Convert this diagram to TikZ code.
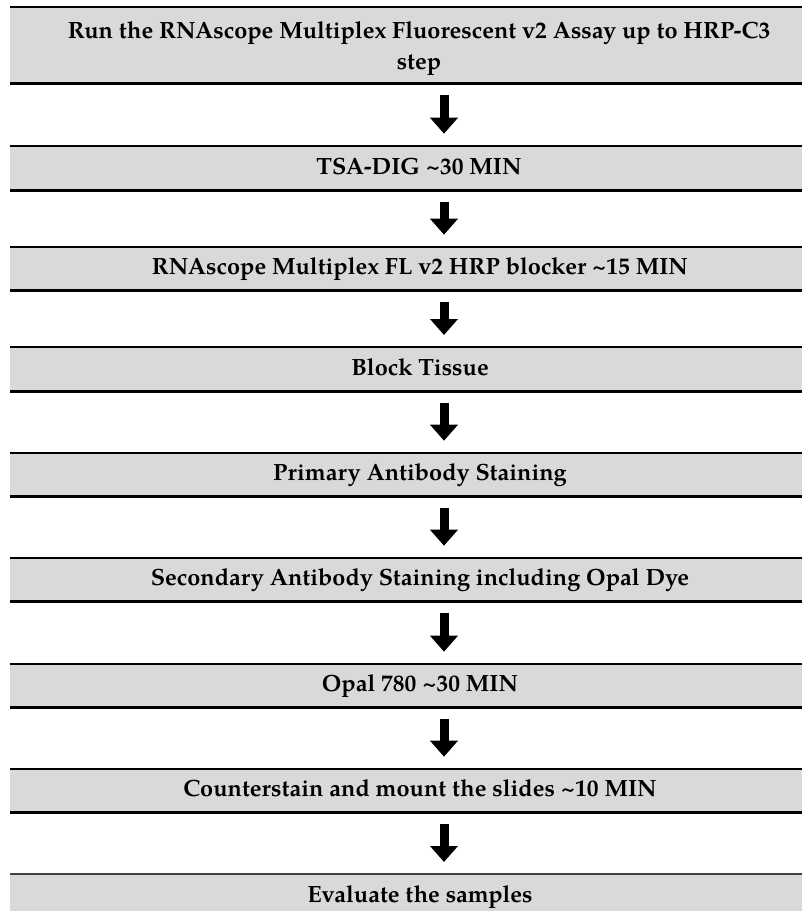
\documentclass[tikz,border=0pt]{standalone}
\usepackage{fontspec}
\setmainfont{TeX Gyre Pagella}
\usetikzlibrary{arrows.meta}
\definecolor{boxgray}{HTML}{D9D9D9}
\definecolor{rulegray}{HTML}{404040}
\begin{document}
\begin{tikzpicture}[x=1pt,y=-1pt,
  box/.style={fill=boxgray, draw=none, minimum width=792pt, inner sep=0pt, anchor=north west},
  lbl/.style={font=\fontsize{23.5}{31}\selectfont\bfseries, align=center, inner sep=0pt, anchor=base},
  toprule/.style={line width=2pt},
  botrule/.style={line width=3pt},
  flow/.style={line width=9pt, -{Triangle[width=27pt,length=16pt]}, shorten <=12pt, shorten >=12pt}]
\useasboundingbox (0,0) rectangle (802,911);
\coordinate (ax) at (444,0);
% boxes
\node[box, minimum height=76.3pt] (b1) at (10,6.7) {};
\node[box, minimum height=44.3pt] (b2) at (10,145.7) {};
\node[box, minimum height=43.3pt] (b3) at (10,246.7) {};
\node[box, minimum height=44pt] (b4) at (10,347) {};
\node[box, minimum height=43.3pt] (b5) at (10,452.7) {};
\node[box, minimum height=43.3pt] (b6) at (10,557.7) {};
\node[box, minimum height=43.3pt] (b7) at (10,663.7) {};
\node[box, minimum height=43.3pt] (b8) at (10,768.7) {};
\node[box, minimum height=44pt] (b9) at (10,874) {};
% rules
\foreach \b in {b1,b2,b3,b4,b5,b6,b7,b8}{
  \draw[toprule] (\b.north west) -- (\b.north east);
  \draw[botrule] (\b.south west) -- (\b.south east);
}
\draw[line width=1.5pt, rulegray] (b9.north west) -- (b9.north east);
% labels
\node[lbl] (t1) at (419,69.5) {Run the RNAscope Multiplex Fluorescent v2 Assay up to HRP-C3\\step};
\node[lbl] (t2) at (419,174.3) {TSA-DIG \textasciitilde 30 MIN};
\node[lbl] (t3) at (420,274.8) {RNAscope Multiplex FL v2 HRP blocker \textasciitilde 15 MIN};
\node[lbl] (t4) at (420,375.5) {Block Tissue};
\node[lbl] (t5) at (420,480.8) {Primary Antibody Staining};
\node[lbl] (t6) at (420,585.8) {Secondary Antibody Staining including Opal Dye};
\node[lbl] (t7) at (420,691.8) {Opal 780 \textasciitilde 30 MIN};
\node[lbl] (t8) at (420,796.8) {Counterstain and mount the slides \textasciitilde 10 MIN};
\node[lbl] (t9) at (420,902.5) {Evaluate the samples};
% arrows
\foreach \a/\b in {b1/b2,b2/b3,b3/b4,b4/b5,b5/b6,b6/b7,b7/b8,b8/b9}{
  \draw[flow] (\a.south -| ax) -- (\b.north -| ax);
}
\end{tikzpicture}
\end{document}
